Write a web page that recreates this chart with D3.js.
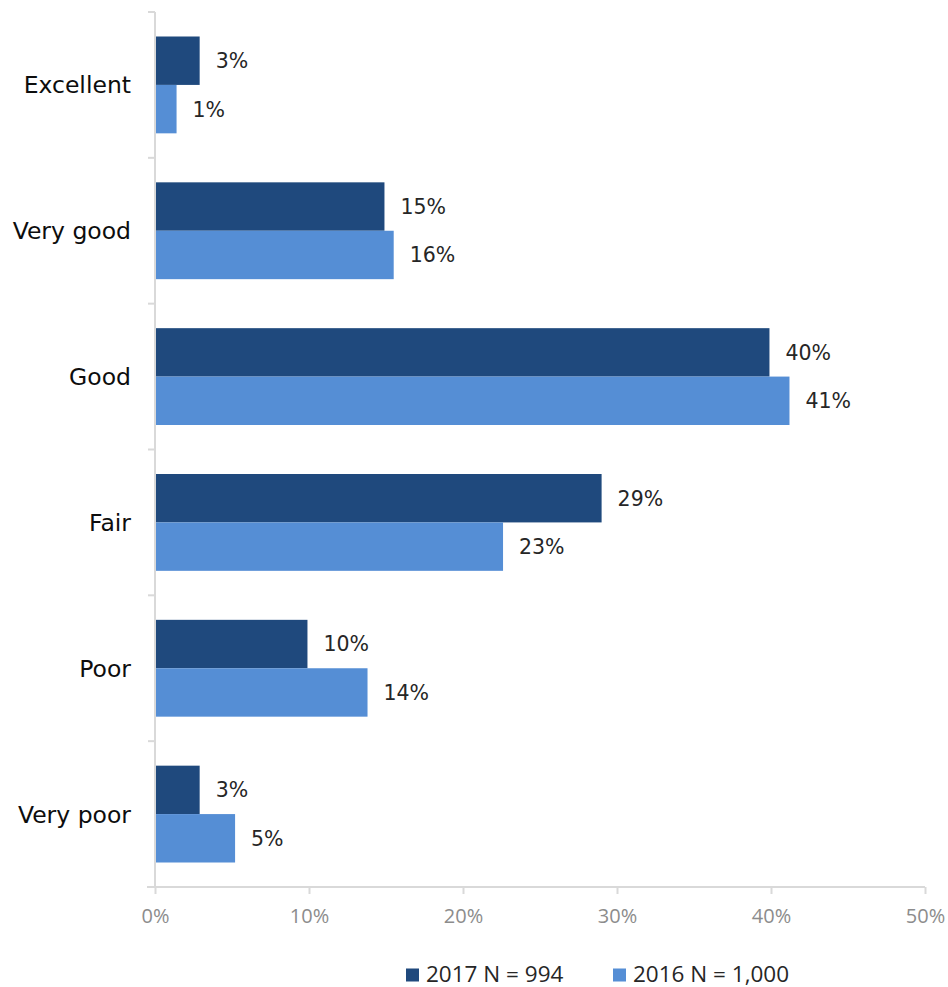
<!DOCTYPE html>
<html>
<head>
<meta charset="utf-8">
<script src="https://cdn.jsdelivr.net/npm/d3@7"></script>
<style>
  html, body { margin: 0; padding: 0; background: #fff; }
  svg { display: block; }
</style>
</head>
<body>
<svg id="chart" width="948" height="987"></svg>
<script>
// Self-rated condition, share of respondents by year
const categories = ["Excellent", "Very good", "Good", "Fair", "Poor", "Very poor"];
const seriesNames = ["2017 N = 994", "2016 N = 1,000"];
const values2017 = [2.9, 14.9, 39.9, 29.0, 9.9, 2.9];
const values2016 = [1.4, 15.5, 41.2, 22.6, 13.8, 5.2];
const xTicks = [0, 10, 20, 30, 40, 50];
const colors = ["#1F497D", "#558ED5"];

const catFont = "'DejaVu Sans', sans-serif";
const tickFont = "'Open Sans', 'Noto Sans', sans-serif";

const svg = d3.select("#chart");
const margin = { left: 155, right: 23, top: 12, bottom: 100 };
const W = 948, H = 987;

const x = d3.scaleLinear().domain([0, 50]).range([margin.left, W - margin.right]);
const y = d3.scaleBand().domain(categories)
  .range([margin.top, H - margin.bottom])
  .paddingInner(0.336).paddingOuter(0.168);
const ySub = d3.scaleBand().domain([0, 1]).range([0, y.bandwidth()]);

const data = categories.map((c, i) => ({ cat: c, vals: [values2017[i], values2016[i]] }));

// bars
const groups = svg.append("g").selectAll("g").data(data).join("g")
  .attr("transform", d => `translate(0,${y(d.cat)})`);

groups.selectAll("rect").data(d => d.vals.map((v, k) => ({ v, k }))).join("rect")
  .attr("x", x(0))
  .attr("y", d => ySub(d.k))
  .attr("width", d => x(d.v) - x(0))
  .attr("height", ySub.bandwidth())
  .attr("fill", d => colors[d.k]);

groups.selectAll("text").data(d => d.vals.map((v, k) => ({ v, k }))).join("text")
  .attr("x", d => x(d.v) + 16)
  .attr("y", d => ySub(d.k) + ySub.bandwidth() / 2)
  .attr("dy", "0.36em")
  .attr("font-family", catFont)
  .attr("font-size", 20.5)
  .attr("fill", "#262626")
  .text(d => Math.round(d.v) + "%");

// axes
const axisColor = "#d9d9d9";
const x0 = H - margin.bottom;
const xAxis = svg.append("g")
  .attr("transform", `translate(0,${x0})`)
  .call(d3.axisBottom(x).tickValues(xTicks).tickFormat(d => d + "%").tickSize(7).tickSizeOuter(0));
xAxis.select(".domain").attr("stroke", axisColor).attr("stroke-width", 2)
  .attr("d", `M${x(0) - 8},0H${x(50)}`);
xAxis.selectAll(".tick line").attr("stroke", axisColor).attr("stroke-width", 2);
xAxis.selectAll(".tick text")
  .attr("font-family", tickFont).attr("font-size", 20).attr("fill", "#8c8c8c")
  .attr("y", 36).attr("dy", 0);

// category axis: domain line plus separators at band boundaries
const yAxisG = svg.append("g");
yAxisG.append("line")
  .attr("x1", x(0)).attr("x2", x(0))
  .attr("y1", margin.top).attr("y2", x0)
  .attr("stroke", axisColor).attr("stroke-width", 2);
const boundaries = d3.range(categories.length).map(i => y(categories[i]) - y.step() * y.paddingOuter());
yAxisG.selectAll(".sep").data(boundaries).join("line")
  .attr("x1", x(0) - 7).attr("x2", x(0))
  .attr("y1", d => d).attr("y2", d => d)
  .attr("stroke", axisColor).attr("stroke-width", 2);

yAxisG.selectAll(".cat").data(categories).join("text")
  .attr("x", x(0) - 24)
  .attr("y", d => y(d) + y.bandwidth() / 2)
  .attr("dy", "0.36em")
  .attr("text-anchor", "end")
  .attr("font-family", catFont)
  .attr("font-size", 23.5)
  .attr("fill", "#0d0d0d")
  .text(d => d);

// legend
const legendX = [406, 613];
const legend = svg.append("g").selectAll("g").data(seriesNames).join("g")
  .attr("transform", (d, i) => `translate(${legendX[i]},975)`);
legend.append("rect").attr("x", 0).attr("y", -6.5).attr("width", 13).attr("height", 13)
  .attr("fill", (d, i) => colors[i]);
legend.append("text").attr("x", 20).attr("y", 6.5)
  .attr("font-family", tickFont).attr("font-size", 22.5).attr("fill", "#262626")
  .text(d => d);
</script>
</body>
</html>
